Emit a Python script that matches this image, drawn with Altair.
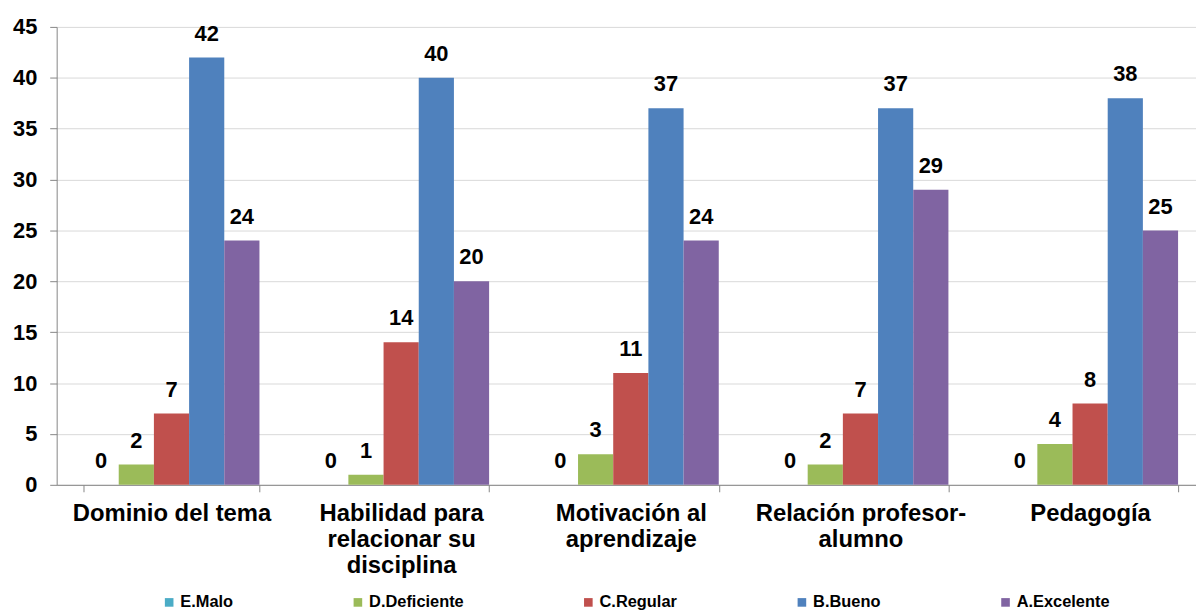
import altair as alt
import pandas as pd

categories = ["Dominio del tema", "Habilidad para relacionar su disciplina",
              "Motivación al aprendizaje", "Relación profesor-alumno", "Pedagogía"]
label_lines = [["Dominio del tema"], ["Habilidad para", "relacionar su", "disciplina"],
               ["Motivación al", "aprendizaje"], ["Relación profesor-", "alumno"], ["Pedagogía"]]
series = ["E.Malo", "D.Deficiente", "C.Regular", "B.Bueno", "A.Excelente"]
colors = ["#4BACC6", "#9BBB59", "#C0504D", "#4F81BD", "#8064A2"]
e_malo = [0, 0, 0, 0, 0]
d_deficiente = [2, 1, 3, 2, 4]
c_regular = [7, 14, 11, 7, 8]
b_bueno = [42, 40, 37, 37, 38]
a_excelente = [24, 20, 24, 29, 25]

vals = [e_malo, d_deficiente, c_regular, b_bueno, a_excelente]
rows = []
for s, v in zip(series, vals):
    for c, x in zip(categories, v):
        rows.append({"cat": c, "serie": s, "valor": x})
df = pd.DataFrame(rows)

expr = "datum.value"
for c, lines in reversed(list(zip(categories, label_lines))):
    arr = "[" + ",".join("'" + l + "'" for l in lines) + "]"
    expr = f"datum.value == '{c}' ? {arr} : ({expr})"

FONT = "Liberation Sans"

base = alt.Chart(df).encode(
    x=alt.X("cat:N", sort=categories, title=None,
            scale=alt.Scale(paddingInner=0.234, paddingOuter=0.117),
            axis=alt.Axis(labelAngle=0, tickBand="extent", tickSize=7, labelPadding=10,
                          labelFontSize=24, labelFontWeight="bold", labelColor="#000000",
                          labelFont=FONT, labelLineHeight=26, labelExpr=expr, labelLimit=400,
                          domainColor="#868686", tickColor="#868686", labelBaseline="top")),
    xOffset=alt.XOffset("serie:N", sort=series, scale=alt.Scale(paddingInner=0, paddingOuter=0)),
    y=alt.Y("valor:Q", title=None, scale=alt.Scale(domain=[0, 45], nice=False),
            axis=alt.Axis(values=list(range(0, 50, 5)), tickSize=7, labelPadding=13,
                          labelFontSize=22, labelFontWeight="bold", labelColor="#000000",
                          labelFont=FONT, gridColor="#D9D9D9", domainColor="#868686",
                          tickColor="#868686")),
)

bars = base.mark_bar().encode(
    color=alt.Color("serie:N", sort=series, scale=alt.Scale(domain=series, range=colors),
                    legend=alt.Legend(title=None, orient="none", direction="horizontal",
                                      legendX=105, legendY=571, symbolType="square",
                                      symbolSize=75, symbolStrokeWidth=0, labelFontSize=16.5,
                                      labelFontWeight="bold", labelFont=FONT,
                                      labelColor="#000000", columnPadding=117, labelOffset=3))
)

labels = base.mark_text(baseline="alphabetic", dy=-17, fontSize=22, fontWeight="bold",
                        font=FONT, color="#000000").encode(text="valor:Q")

chart = (bars + labels).properties(
    width=1156, height=461,
    autosize=alt.AutoSizeParams(type="none"),
    padding={"left": 49, "top": 17, "right": -9, "bottom": 126},
).configure_view(strokeWidth=0)

chart.save("out.html", embed_options={"renderer": "svg", "actions": False})
